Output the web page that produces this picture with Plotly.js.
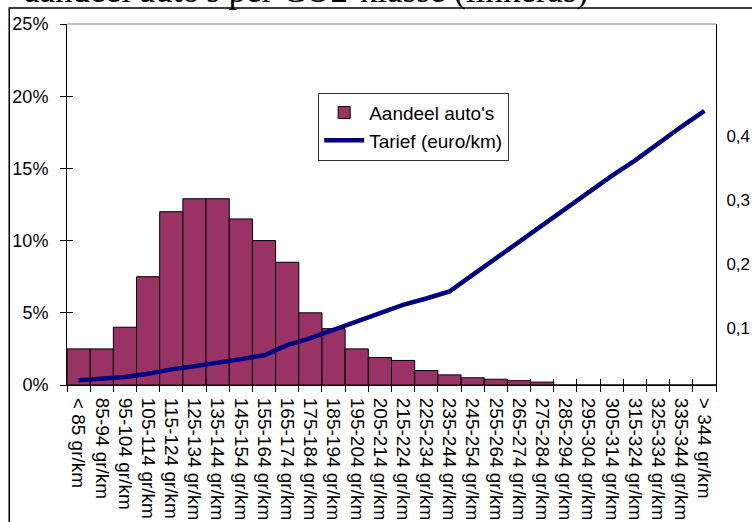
<!DOCTYPE html>
<html>
<head>
<meta charset="utf-8">
<script src="https://cdn.plot.ly/plotly-3.0.1.min.js"></script>
<style>html,body{margin:0;padding:0;background:#fff;} #chart{width:752px;height:522px;}</style>
</head>
<body>
<div id="chart"></div>
<script>
// ---- data ----
const categories = [
  "< 85 gr/km", "85-94 gr/km", "95-104 gr/km", "105-114 gr/km", "115-124 gr/km",
  "125-134 gr/km", "135-144 gr/km", "145-154 gr/km", "155-164 gr/km", "165-174 gr/km",
  "175-184 gr/km", "185-194 gr/km", "195-204 gr/km", "205-214 gr/km", "215-224 gr/km",
  "225-234 gr/km", "235-244 gr/km", "245-254 gr/km", "255-264 gr/km", "265-274 gr/km",
  "275-284 gr/km", "285-294 gr/km", "295-304 gr/km", "305-314 gr/km", "315-324 gr/km",
  "325-334 gr/km", "335-344 gr/km", "> 344 gr/km"
];
// share of cars per CO2 class (%), left axis
const shareCars = [2.5, 2.5, 4.0, 7.5, 12.0, 12.9, 12.9, 11.5, 10.0, 8.5,
                   5.0, 3.9, 2.5, 1.9, 1.7, 1.0, 0.7, 0.5, 0.4, 0.3,
                   0.2, 0, 0, 0, 0, 0, 0, 0];
// tariff (euro/km), right axis
const tariff = [0.018, 0.020, 0.023, 0.028, 0.035, 0.040, 0.045, 0.051, 0.057, 0.073,
                0.084, 0.097, 0.110, 0.122, 0.136, 0.146, 0.157, 0.183, 0.209, 0.235,
                0.260, 0.286, 0.312, 0.338, 0.362, 0.389, 0.415, 0.440];
const leftTicks = [0, 5, 10, 15, 20, 25];
const leftTickText = ["0%", "5%", "10%", "15%", "20%", "25%"];
const rightTickVals = [0.1, 0.2, 0.3, 0.4];
const rightTickText = ["0,1", "0,2", "0,3", "0,4"];
const seriesNames = ["Aandeel auto's", "Tarief (euro/km)"];
const titleText = "aandeel auto's per CO2-klasse (linkeras)";

const FONT = "Liberation Sans, Arial, sans-serif";
const xRange = [-0.5, categories.length - 0.5];

const traces = [
  {
    type: "bar", x: categories, y: shareCars, name: seriesNames[0],
    marker: {color: "#993366", line: {color: "#000000", width: 1}},
    xaxis: "x", yaxis: "y", hoverinfo: "skip"
  },
  {
    type: "scatter", mode: "lines", x: categories, y: tariff, name: seriesNames[1],
    line: {color: "#000080", width: 4.5},
    xaxis: "x", yaxis: "y2", hoverinfo: "skip"
  },
  {
    type: "scatter", mode: "markers", x: categories, y: shareCars,
    marker: {opacity: 0, size: 1}, showlegend: false, hoverinfo: "skip",
    xaxis: "x2", yaxis: "y3"
  }
];

const layout = {
  width: 752, height: 522,
  margin: {l: 67, r: 36, t: 24, b: 137, pad: 0},
  paper_bgcolor: "#ffffff", plot_bgcolor: "#ffffff",
  font: {family: FONT, size: 18, color: "#000000"},
  showlegend: true,
  bargap: 0,
  xaxis: {
    type: "category", range: xRange, autorange: false, dtick: 1, tick0: 0,
    showline: true, linecolor: "#000", linewidth: 1,
    ticks: "outside", ticklen: 6, tickcolor: "#000", tickwidth: 1,
    tickson: "boundaries", tickangle: 90, showgrid: false, zeroline: false,
    ticklabelstandoff: 8,
    tickfont: {family: FONT, size: 19, color: "#000"}
  },
  xaxis2: {
    type: "category", overlaying: "x", anchor: "y3", range: xRange, autorange: false,
    dtick: 1, tick0: 0,
    ticks: "inside", ticklen: 6, tickcolor: "#000", tickwidth: 1,
    tickson: "boundaries", showticklabels: false, showline: false, showgrid: false, zeroline: false
  },
  yaxis: {
    range: [0, 25], tickmode: "array", tickvals: leftTicks, ticktext: leftTickText,
    showline: true, linecolor: "#000", linewidth: 1,
    ticks: "outside", ticklen: 6, tickcolor: "#000", tickwidth: 1,
    ticklabelstandoff: 8, showgrid: false, zeroline: false,
    tickfont: {family: FONT, size: 18, color: "#000"}
  },
  yaxis3: {
    overlaying: "y", anchor: "x2", side: "left", range: [0, 25], autorange: false,
    tickmode: "array", tickvals: leftTicks, ticks: "inside", ticklen: 6, tickcolor: "#000", tickwidth: 1,
    showticklabels: false, showline: false, showgrid: false, zeroline: false
  },
  yaxis2: {
    overlaying: "y", side: "right", anchor: "x",
    range: [0.0105, 0.576], tickmode: "array", tickvals: rightTickVals, ticktext: rightTickText,
    showline: true, linecolor: "#000", linewidth: 1,
    ticks: "", ticklabelstandoff: 6, showgrid: false, zeroline: false,
    tickfont: {family: FONT, size: 17, color: "#000"}
  },
  legend: {
    x: 0.387, y: 0.81, xanchor: "left", yanchor: "top",
    bgcolor: "#ffffff", bordercolor: "#333333", borderwidth: 1,
    font: {family: FONT, size: 19, color: "#000"},
    traceorder: "normal", itemwidth: 40
  },
  shapes: [
    {type: "line", xref: "paper", yref: "paper", x0: 0, x1: 1, y0: 1, y1: 1,
     line: {color: "#808080", width: 1}},
    {type: "rect", xref: "paper", yref: "paper", x0: -0.089, x1: 1.08, y0: -0.5, y1: 1.044,
     line: {color: "#000000", width: 1.5}, fillcolor: "rgba(0,0,0,0)", layer: "above"}
  ],
  annotations: [
    {text: titleText, xref: "paper", yref: "paper", x: -0.07, y: 1.093,
     xanchor: "left", yanchor: "middle", showarrow: false,
     font: {family: "Liberation Serif, Times New Roman, serif", size: 35, color: "#000"}}
  ]
};

Plotly.newPlot("chart", traces, layout, {displayModeBar: false, staticPlot: true});
</script>
</body>
</html>
